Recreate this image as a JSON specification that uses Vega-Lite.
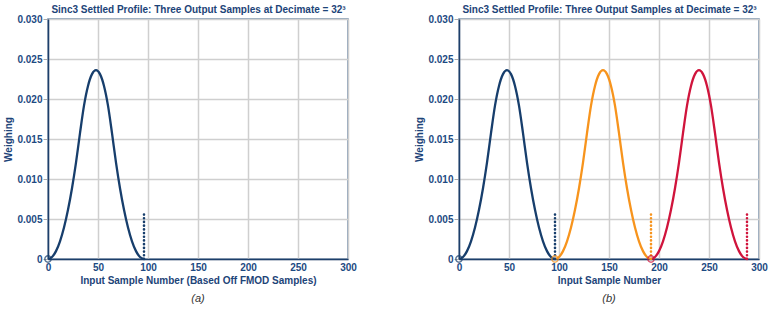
{
  "$schema": "https://vega.github.io/schema/vega-lite/v6.json",
  "padding": {"left": 3, "top": 3, "right": 0, "bottom": 2},
  "spacing": 56,
  "config": {
    "font": "Liberation Sans",
    "view": {"stroke": "#6f8aa8", "strokeWidth": 1.5},
    "axis": {
      "labelFont": "Liberation Sans", "labelFontWeight": "bold", "labelFontSize": 10, "labelColor": "#1d4a82",
      "titleFont": "Liberation Sans", "titleFontWeight": "bold", "titleFontSize": 10, "titleColor": "#1d4478",
      "gridColor": "#cfcfcf", "gridWidth": 1.5, "domainColor": "#1d3f6b", "domainWidth": 1.5,
      "tickColor": "#aaaaaa", "tickWidth": 1, "labelOverlap": false
    }
  },
  "datasets": {
    "curves": [
      {"panel":"a","s":"s1","x":0,"y":0},{"panel":"a","s":"s1","x":4,"y":0.000246},{"panel":"a","s":"s1","x":8,"y":0.000984},{"panel":"a","s":"s1","x":12,"y":0.002212},{"panel":"a","s":"s1","x":16,"y":0.003933},{"panel":"a","s":"s1","x":20,"y":0.006146},{"panel":"a","s":"s1","x":24,"y":0.00885},{"panel":"a","s":"s1","x":28,"y":0.012047},{"panel":"a","s":"s1","x":32,"y":0.015734},{"panel":"a","s":"s1","x":36,"y":0.019176},{"panel":"a","s":"s1","x":40,"y":0.021634},{"panel":"a","s":"s1","x":44,"y":0.023109},{"panel":"a","s":"s1","x":48,"y":0.0236},{"panel":"a","s":"s1","x":52,"y":0.023109},{"panel":"a","s":"s1","x":56,"y":0.021634},{"panel":"a","s":"s1","x":60,"y":0.019176},{"panel":"a","s":"s1","x":64,"y":0.015734},{"panel":"a","s":"s1","x":68,"y":0.012047},{"panel":"a","s":"s1","x":72,"y":0.00885},{"panel":"a","s":"s1","x":76,"y":0.006146},{"panel":"a","s":"s1","x":80,"y":0.003933},{"panel":"a","s":"s1","x":84,"y":0.002212},{"panel":"a","s":"s1","x":88,"y":0.000984},{"panel":"a","s":"s1","x":92,"y":0.000246},{"panel":"a","s":"s1","x":96,"y":0},
      {"panel":"b","s":"s1","x":0,"y":0},{"panel":"b","s":"s1","x":4,"y":0.000246},{"panel":"b","s":"s1","x":8,"y":0.000984},{"panel":"b","s":"s1","x":12,"y":0.002212},{"panel":"b","s":"s1","x":16,"y":0.003933},{"panel":"b","s":"s1","x":20,"y":0.006146},{"panel":"b","s":"s1","x":24,"y":0.00885},{"panel":"b","s":"s1","x":28,"y":0.012047},{"panel":"b","s":"s1","x":32,"y":0.015734},{"panel":"b","s":"s1","x":36,"y":0.019176},{"panel":"b","s":"s1","x":40,"y":0.021634},{"panel":"b","s":"s1","x":44,"y":0.023109},{"panel":"b","s":"s1","x":48,"y":0.0236},{"panel":"b","s":"s1","x":52,"y":0.023109},{"panel":"b","s":"s1","x":56,"y":0.021634},{"panel":"b","s":"s1","x":60,"y":0.019176},{"panel":"b","s":"s1","x":64,"y":0.015734},{"panel":"b","s":"s1","x":68,"y":0.012047},{"panel":"b","s":"s1","x":72,"y":0.00885},{"panel":"b","s":"s1","x":76,"y":0.006146},{"panel":"b","s":"s1","x":80,"y":0.003933},{"panel":"b","s":"s1","x":84,"y":0.002212},{"panel":"b","s":"s1","x":88,"y":0.000984},{"panel":"b","s":"s1","x":92,"y":0.000246},{"panel":"b","s":"s1","x":96,"y":0},
      {"panel":"b","s":"s2","x":96,"y":0},{"panel":"b","s":"s2","x":100,"y":0.000246},{"panel":"b","s":"s2","x":104,"y":0.000984},{"panel":"b","s":"s2","x":108,"y":0.002212},{"panel":"b","s":"s2","x":112,"y":0.003933},{"panel":"b","s":"s2","x":116,"y":0.006146},{"panel":"b","s":"s2","x":120,"y":0.00885},{"panel":"b","s":"s2","x":124,"y":0.012047},{"panel":"b","s":"s2","x":128,"y":0.015734},{"panel":"b","s":"s2","x":132,"y":0.019176},{"panel":"b","s":"s2","x":136,"y":0.021634},{"panel":"b","s":"s2","x":140,"y":0.023109},{"panel":"b","s":"s2","x":144,"y":0.0236},{"panel":"b","s":"s2","x":148,"y":0.023109},{"panel":"b","s":"s2","x":152,"y":0.021634},{"panel":"b","s":"s2","x":156,"y":0.019176},{"panel":"b","s":"s2","x":160,"y":0.015734},{"panel":"b","s":"s2","x":164,"y":0.012047},{"panel":"b","s":"s2","x":168,"y":0.00885},{"panel":"b","s":"s2","x":172,"y":0.006146},{"panel":"b","s":"s2","x":176,"y":0.003933},{"panel":"b","s":"s2","x":180,"y":0.002212},{"panel":"b","s":"s2","x":184,"y":0.000984},{"panel":"b","s":"s2","x":188,"y":0.000246},{"panel":"b","s":"s2","x":192,"y":0},
      {"panel":"b","s":"s3","x":192,"y":0},{"panel":"b","s":"s3","x":196,"y":0.000246},{"panel":"b","s":"s3","x":200,"y":0.000984},{"panel":"b","s":"s3","x":204,"y":0.002212},{"panel":"b","s":"s3","x":208,"y":0.003933},{"panel":"b","s":"s3","x":212,"y":0.006146},{"panel":"b","s":"s3","x":216,"y":0.00885},{"panel":"b","s":"s3","x":220,"y":0.012047},{"panel":"b","s":"s3","x":224,"y":0.015734},{"panel":"b","s":"s3","x":228,"y":0.019176},{"panel":"b","s":"s3","x":232,"y":0.021634},{"panel":"b","s":"s3","x":236,"y":0.023109},{"panel":"b","s":"s3","x":240,"y":0.0236},{"panel":"b","s":"s3","x":244,"y":0.023109},{"panel":"b","s":"s3","x":248,"y":0.021634},{"panel":"b","s":"s3","x":252,"y":0.019176},{"panel":"b","s":"s3","x":256,"y":0.015734},{"panel":"b","s":"s3","x":260,"y":0.012047},{"panel":"b","s":"s3","x":264,"y":0.00885},{"panel":"b","s":"s3","x":268,"y":0.006146},{"panel":"b","s":"s3","x":272,"y":0.003933},{"panel":"b","s":"s3","x":276,"y":0.002212},{"panel":"b","s":"s3","x":280,"y":0.000984},{"panel":"b","s":"s3","x":284,"y":0.000246},{"panel":"b","s":"s3","x":288,"y":0}
    ],
    "markers": [
      {"panel":"a","s":"s1","x":0,"y":0},
      {"panel":"b","s":"s1","x":0,"y":0},
      {"panel":"b","s":"s2","x":96,"y":0},
      {"panel":"b","s":"s3","x":192,"y":0}
    ],
    "dotted": [
      {"panel":"a","s":"s1","x":96,"y":0,"y2":0.006},
      {"panel":"b","s":"s1","x":96,"y":0,"y2":0.006},
      {"panel":"b","s":"s2","x":192,"y":0,"y2":0.006},
      {"panel":"b","s":"s3","x":288,"y":0,"y2":0.006}
    ]
  },
  "hconcat": [
    {
      "width": 300, "height": 240,
      "title": {"text": "(a)", "orient": "bottom", "frame": "group", "font": "Liberation Sans", "fontStyle": "italic", "fontWeight": "normal", "fontSize": 11, "color": "#333333", "offset": 8},
      "resolve": {"axis": {"x": "independent"}},
      "layer": [
        {
          "data": {"name": "curves"},
          "transform": [{"filter": "datum.panel == 'a'"}],
          "mark": {"type": "line", "interpolate": "monotone", "strokeWidth": 2.3},
          "encoding": {
            "x": {"field": "x", "type": "quantitative", "scale": {"domain": [0, 300], "nice": false},
                  "axis": {"orient": "bottom", "title": "Input Sample Number (Based Off FMOD Samples)", "values": [0,50,100,150,200,250,300], "ticks": false, "labelPadding": 3, "titlePadding": 3, "labelFlush": false}},
            "y": {"field": "y", "type": "quantitative", "scale": {"domain": [0, 0.03], "nice": false},
                  "axis": {"title": "Weighing", "values": [0,0.005,0.01,0.015,0.02,0.025,0.03], "labelExpr": "datum.value == 0 ? '0' : format(datum.value, '.3f')", "tickSize": 5, "labelPadding": 1, "titlePadding": 3}},
            "color": {"field": "s", "type": "nominal", "scale": {"domain": ["s1","s2","s3"], "range": ["#173e6c","#f7941d","#d0143c"]}, "legend": null}
          }
        },
        {
          "data": {"name": "dotted"},
          "transform": [{"filter": "datum.panel == 'a'"}],
          "mark": {"type": "rule", "strokeWidth": 2.6, "strokeDash": [0.1, 3.6], "strokeCap": "round"},
          "encoding": {
            "x": {"field": "x", "type": "quantitative", "axis": {"orient": "top", "title": "Sinc3 Settled Profile: Three Output Samples at Decimate = 32³", "labels": false, "ticks": false, "domain": false, "grid": false, "titlePadding": 5}},
            "y": {"field": "y", "type": "quantitative",
                  "axis": {"title": "Weighing", "values": [0,0.005,0.01,0.015,0.02,0.025,0.03], "labelExpr": "datum.value == 0 ? '0' : format(datum.value, '.3f')", "tickSize": 5, "labelPadding": 1, "titlePadding": 3}},
            "y2": {"field": "y2"},
            "color": {"field": "s", "type": "nominal"}
          }
        },
        {
          "data": {"name": "markers"},
          "transform": [{"filter": "datum.panel == 'a'"}],
          "mark": {"type": "point", "filled": false, "size": 40, "strokeWidth": 1.5, "clip": false},
          "encoding": {
            "x": {"field": "x", "type": "quantitative", "axis": null},
            "y": {"field": "y", "type": "quantitative",
                  "axis": {"title": "Weighing", "values": [0,0.005,0.01,0.015,0.02,0.025,0.03], "labelExpr": "datum.value == 0 ? '0' : format(datum.value, '.3f')", "tickSize": 5, "labelPadding": 1, "titlePadding": 3}},
            "color": {"field": "s", "type": "nominal"}
          }
        }
      ]
    },
    {
      "width": 300, "height": 240,
      "title": {"text": "(b)", "orient": "bottom", "frame": "group", "font": "Liberation Sans", "fontStyle": "italic", "fontWeight": "normal", "fontSize": 11, "color": "#333333", "offset": 8},
      "resolve": {"axis": {"x": "independent"}},
      "layer": [
        {
          "data": {"name": "curves"},
          "transform": [{"filter": "datum.panel == 'b'"}],
          "mark": {"type": "line", "interpolate": "monotone", "strokeWidth": 2.3},
          "encoding": {
            "x": {"field": "x", "type": "quantitative", "scale": {"domain": [0, 300], "nice": false},
                  "axis": {"orient": "bottom", "title": "Input Sample Number", "values": [0,50,100,150,200,250,300], "ticks": false, "labelPadding": 3, "titlePadding": 3, "labelFlush": false}},
            "y": {"field": "y", "type": "quantitative", "scale": {"domain": [0, 0.03], "nice": false},
                  "axis": {"title": "Weighing", "values": [0,0.005,0.01,0.015,0.02,0.025,0.03], "labelExpr": "datum.value == 0 ? '0' : format(datum.value, '.3f')", "tickSize": 5, "labelPadding": 1, "titlePadding": 3}},
            "color": {"field": "s", "type": "nominal", "scale": {"domain": ["s1","s2","s3"], "range": ["#173e6c","#f7941d","#d0143c"]}, "legend": null}
          }
        },
        {
          "data": {"name": "dotted"},
          "transform": [{"filter": "datum.panel == 'b'"}],
          "mark": {"type": "rule", "strokeWidth": 2.6, "strokeDash": [0.1, 3.6], "strokeCap": "round"},
          "encoding": {
            "x": {"field": "x", "type": "quantitative", "axis": {"orient": "top", "title": "Sinc3 Settled Profile: Three Output Samples at Decimate = 32³", "labels": false, "ticks": false, "domain": false, "grid": false, "titlePadding": 5}},
            "y": {"field": "y", "type": "quantitative",
                  "axis": {"title": "Weighing", "values": [0,0.005,0.01,0.015,0.02,0.025,0.03], "labelExpr": "datum.value == 0 ? '0' : format(datum.value, '.3f')", "tickSize": 5, "labelPadding": 1, "titlePadding": 3}},
            "y2": {"field": "y2"},
            "color": {"field": "s", "type": "nominal"}
          }
        },
        {
          "data": {"name": "markers"},
          "transform": [{"filter": "datum.panel == 'b'"}],
          "mark": {"type": "point", "filled": false, "size": 40, "strokeWidth": 1.5, "clip": false},
          "encoding": {
            "x": {"field": "x", "type": "quantitative", "axis": null},
            "y": {"field": "y", "type": "quantitative",
                  "axis": {"title": "Weighing", "values": [0,0.005,0.01,0.015,0.02,0.025,0.03], "labelExpr": "datum.value == 0 ? '0' : format(datum.value, '.3f')", "tickSize": 5, "labelPadding": 1, "titlePadding": 3}},
            "color": {"field": "s", "type": "nominal"}
          }
        }
      ]
    }
  ]
}
